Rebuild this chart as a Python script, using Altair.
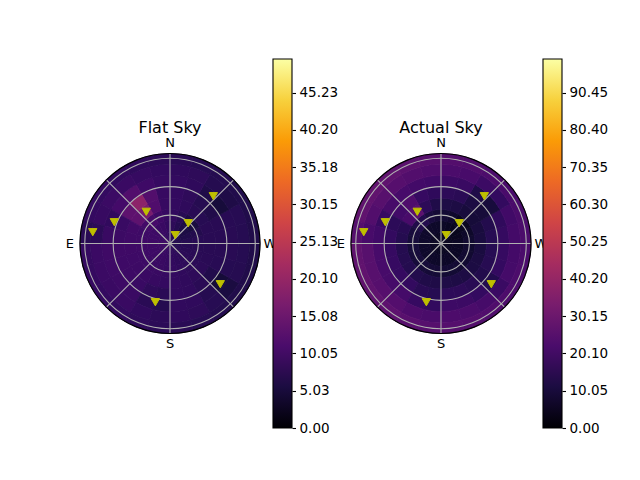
import math
import altair as alt
import pandas as pd

# ---------------- data ----------------
RING_EDGES = [0, 12, 24, 36, 48, 60, 72, 84, 95]   # radial cell edges (axis units, r max 95)
N_SECTORS = 24                                      # 15 degree azimuth sectors, from North towards East

FLAT_VALUES = [
    [7.9, 8.4, 8.8, 9.1, 9.3, 9.4, 9.4, 9.4, 9.3, 9.0, 8.8, 8.5, 8.1, 7.8, 7.5, 7.2, 7.0, 6.9, 6.7, 6.6, 6.6, 6.8, 7.0, 7.4],
    [8.3, 8.9, 9.1, 9.4, 9.5, 9.6, 9.6, 9.5, 9.4, 9.1, 8.9, 8.6, 8.2, 7.9, 7.7, 7.5, 7.3, 7.1, 6.8, 6.3, 5.8, 5.9, 6.7, 7.6],
    [8.6, 9.4, 10.4, 10.1, 9.5, 9.6, 9.6, 9.5, 9.4, 9.1, 8.9, 8.6, 8.3, 8.0, 7.7, 7.5, 7.3, 7.2, 7.1, 6.5, 5.4, 5.6, 7.1, 8.1],
    [8.7, 11.6, 16.5, 13.4, 9.8, 9.6, 9.6, 9.5, 9.4, 9.1, 8.7, 8.4, 8.3, 8.0, 7.7, 7.5, 7.3, 7.2, 7.2, 7.2, 7.0, 7.2, 7.9, 8.3],
    [8.7, 11.8, 19.0, 13.4, 9.0, 9.3, 9.6, 9.5, 9.4, 9.0, 7.8, 7.4, 8.1, 8.0, 7.3, 6.4, 7.1, 7.2, 7.2, 7.2, 6.2, 6.8, 7.8, 8.3],
    [8.6, 9.5, 11.8, 10.2, 8.1, 8.9, 9.6, 9.5, 9.4, 9.1, 7.3, 6.7, 8.1, 8.0, 6.8, 4.8, 6.9, 7.2, 7.2, 7.1, 5.0, 6.1, 7.9, 8.3],
    [8.3, 8.6, 9.1, 9.2, 8.7, 7.5, 9.2, 9.2, 9.1, 8.9, 8.1, 7.6, 8.0, 7.7, 7.0, 5.5, 6.8, 6.9, 6.9, 7.0, 6.0, 6.7, 7.7, 8.0],
    [7.6, 7.9, 8.2, 8.4, 8.4, 7.2, 8.5, 8.5, 8.4, 8.2, 7.8, 7.5, 7.3, 7.0, 6.6, 6.2, 6.2, 6.2, 6.2, 6.3, 6.3, 6.7, 7.0, 7.3],
]

ACTUAL_VALUES = [
    [6.0, 6.1, 6.2, 6.2, 6.2, 6.2, 6.2, 6.2, 6.2, 6.1, 6.1, 6.0, 6.0, 6.0, 5.9, 5.9, 5.9, 5.8, 5.8, 5.8, 5.8, 5.8, 5.9, 6.0],
    [7.1, 7.3, 7.5, 7.6, 7.6, 7.6, 7.6, 7.6, 7.5, 7.4, 7.2, 7.1, 7.0, 6.9, 6.8, 6.7, 6.6, 6.5, 6.2, 5.6, 5.1, 5.2, 5.9, 6.6],
    [9.2, 10.5, 13.0, 12.4, 10.3, 10.0, 10.0, 10.0, 9.8, 9.7, 9.3, 9.2, 9.0, 8.8, 8.7, 8.5, 8.3, 8.2, 8.2, 7.2, 5.8, 6.0, 7.7, 8.8],
    [12.2, 15.2, 26.0, 21.5, 14.1, 13.4, 13.4, 13.4, 13.2, 12.9, 12.2, 11.9, 12.0, 11.8, 11.5, 11.3, 11.1, 10.8, 10.8, 10.5, 9.7, 10.1, 11.5, 11.8],
    [15.8, 17.3, 23.0, 20.0, 15.1, 16.5, 17.3, 17.3, 17.0, 16.5, 14.4, 13.8, 15.3, 15.2, 14.3, 12.8, 13.9, 14.0, 14.0, 12.9, 9.8, 11.2, 14.5, 15.2],
    [19.4, 20.1, 21.2, 21.1, 17.5, 19.5, 21.2, 21.2, 20.8, 20.5, 17.2, 16.4, 18.8, 18.6, 16.9, 13.1, 16.8, 17.2, 17.1, 15.9, 10.1, 12.3, 17.8, 18.5],
    [22.9, 23.8, 24.7, 25.1, 23.8, 21.4, 24.9, 25.1, 24.7, 24.2, 22.6, 21.8, 22.5, 22.1, 20.9, 18.1, 20.5, 20.3, 20.3, 19.7, 16.6, 18.5, 21.4, 22.1],
    [25.0, 26.0, 27.0, 27.5, 27.3, 24.6, 27.3, 27.5, 27.0, 26.5, 25.3, 24.8, 24.5, 24.0, 23.3, 22.5, 22.3, 22.0, 22.0, 21.8, 21.5, 22.3, 23.5, 24.0],
]

FLAT_MAX = 49.75
ACTUAL_MAX = 99.5
FLAT_TICKS = [0.0, 5.03, 10.05, 15.08, 20.10, 25.13, 30.15, 35.18, 40.20, 45.23]
ACTUAL_TICKS = [0.0, 10.05, 20.10, 30.15, 40.20, 50.25, 60.30, 70.35, 80.40, 90.45]

SAT_AZ = [81.7, 69.1, 36.8, 327.4, 318.0, 317.5, 231.0, 166.0]   # degrees from North towards East
SAT_R = [82.4, 62.9, 41.8, 10.4, 28.8, 67.7, 68.3, 63.9]

R_MAX = 95
GRID_R = [30, 60, 90]
SPOKE_AZ = [0, 45, 90, 135, 180, 225, 270, 315]
DIR_LABELS = ["N", "E", "S", "W"]
DIR_AZ = [0, 90, 180, 270]

INFERNO = ["#000004", "#1b0c41", "#4a0c6b", "#781c6d", "#a52c60",
           "#cf4446", "#ed6925", "#fb9b06", "#f7d13d", "#fcffa4"]

# ---------------- layout (pixels) ----------------
FONT = "DejaVu Sans"
H = 369                 # panel height (colorbar length)
POLAR_PX = 90           # polar radius in pixels
K = POLAR_PX / R_MAX    # pixels per radial unit
CY = 184.5              # polar centre from panel top
LABEL_R = 105.6         # direction label radius (units)


def cells(values):
    step = 360.0 / N_SECTORS
    rows = []
    for i, ring in enumerate(values):
        for j, v in enumerate(ring):
            rows.append(dict(a0=j * step, a1=(j + 1) * step,
                             r0=RING_EDGES[i], r1=RING_EDGES[i + 1], v=v))
    return pd.DataFrame(rows)


def polar_panel(values, vmax, title, width, cx):
    xs = alt.Scale(domain=[-cx / K, (width - cx) / K], nice=False, zero=False)
    ys = alt.Scale(domain=[-(H - CY) / K, CY / K], nice=False, zero=False)
    ts = alt.Scale(domain=[0, 360], range=[2 * math.pi, 0])
    rs = alt.Scale(type="linear", domain=[0, R_MAX], range=[0, POLAR_PX], zero=True, nice=False)
    cs = alt.Scale(scheme="inferno", domain=[0, vmax], nice=False)

    heat = alt.Chart(cells(values)).mark_arc(strokeWidth=0.8).encode(
        x=alt.value(cx), y=alt.value(CY),
        theta=alt.Theta("a0:Q", scale=ts, stack=None), theta2="a1:Q",
        radius=alt.Radius("r0:Q", scale=rs, stack=None), radius2="r1:Q",
        color=alt.Color("v:Q", scale=cs, legend=None),
        stroke=alt.Stroke("v:Q", scale=cs, legend=None),
    )

    rings = alt.Chart(pd.DataFrame({"r": GRID_R})).mark_arc(
        theta=0, theta2=2 * math.pi, fillOpacity=0, stroke="#b0b0b0", strokeWidth=1.1
    ).encode(x=alt.value(cx), y=alt.value(CY),
             radius=alt.Radius("r:Q", scale=rs, stack=None))

    spokes = alt.Chart(pd.DataFrame({"a": SPOKE_AZ})).transform_calculate(
        x0="0", y0="0",
        x1=f"-{R_MAX} * sin(datum.a * PI / 180)",
        y1=f"{R_MAX} * cos(datum.a * PI / 180)",
    ).mark_rule(color="#b0b0b0", strokeWidth=1.1).encode(
        x=alt.X("x0:Q", scale=xs, axis=None), y=alt.Y("y0:Q", scale=ys, axis=None),
        x2="x1:Q", y2="y1:Q",
    )

    spine = alt.Chart(pd.DataFrame({"r": [R_MAX]})).mark_arc(
        theta=0, theta2=2 * math.pi, fillOpacity=0, stroke="black", strokeWidth=1.2
    ).encode(x=alt.value(cx), y=alt.value(CY),
             radius=alt.Radius("r:Q", scale=rs, stack=None))

    sats = alt.Chart(pd.DataFrame({"az": SAT_AZ, "r": SAT_R})).transform_calculate(
        x="-datum.r * sin(datum.az * PI / 180)",
        y="datum.r * cos(datum.az * PI / 180)",
    ).mark_point(shape="triangle-down", filled=True, size=70, color="#bfbf00",
                 stroke="#bfbf00", strokeWidth=1, opacity=1).encode(
        x=alt.X("x:Q", scale=xs, axis=None), y=alt.Y("y:Q", scale=ys, axis=None),
    )

    dirs = alt.Chart(pd.DataFrame({"t": DIR_LABELS, "az": DIR_AZ})).transform_calculate(
        x=f"-{LABEL_R} * sin(datum.az * PI / 180)",
        y=f"{LABEL_R} * cos(datum.az * PI / 180)",
    ).mark_text(font=FONT, fontSize=13, color="black", align="center", baseline="middle").encode(
        x=alt.X("x:Q", scale=xs, axis=None), y=alt.Y("y:Q", scale=ys, axis=None), text="t:N",
    )

    ttl = alt.Chart(pd.DataFrame({"t": [title]})).mark_text(
        font=FONT, fontSize=16, color="black", align="center", baseline="alphabetic"
    ).encode(x=alt.value(cx), y=alt.value(74), text="t:N")

    return alt.layer(heat, rings, spokes, spine, sats, dirs, ttl).properties(width=width, height=H)


def colorbar(vmax, ticks):
    grad = alt.LinearGradient(
        gradient="linear",
        stops=[alt.GradientStop(color=c, offset=i / (len(INFERNO) - 1)) for i, c in enumerate(INFERNO)],
        x1=0, x2=0, y1=1, y2=0,
    )
    return alt.Chart(pd.DataFrame({"lo": [0.0], "hi": [vmax]})).mark_rect(
        fill=grad, stroke="black", strokeWidth=1.1
    ).encode(
        x=alt.value(0), x2=alt.value(19),
        y=alt.Y("lo:Q", scale=alt.Scale(domain=[0, vmax], nice=False, zero=True),
                axis=alt.Axis(orient="right", values=ticks, format=".2f", tickSize=3.5,
                              tickWidth=1.1, tickColor="black", labelColor="black",
                              labelFont=FONT, labelFontSize=13.5, labelPadding=3.5,
                              labelFlush=False, domain=False, grid=False, title=None)),
        y2="hi:Q",
    ).properties(width=19, height=H)


p1 = polar_panel(FLAT_VALUES, FLAT_MAX, "Flat Sky", 211, 108)
c1 = colorbar(FLAT_MAX, FLAT_TICKS)
p2 = polar_panel(ACTUAL_VALUES, ACTUAL_MAX, "Actual Sky", 251, 149)
c2 = colorbar(ACTUAL_MAX, ACTUAL_TICKS)

chart = alt.hconcat(p1, c1, p2, c2, spacing=0, bounds="flush").resolve_scale(
    x="independent", y="independent", color="independent", stroke="independent"
).properties(
    padding={"left": 54, "top": 50, "right": 10, "bottom": 10}
).configure(font=FONT).configure_view(strokeWidth=0)

chart.save("out.html", embed_options={"renderer": "svg", "actions": False})
